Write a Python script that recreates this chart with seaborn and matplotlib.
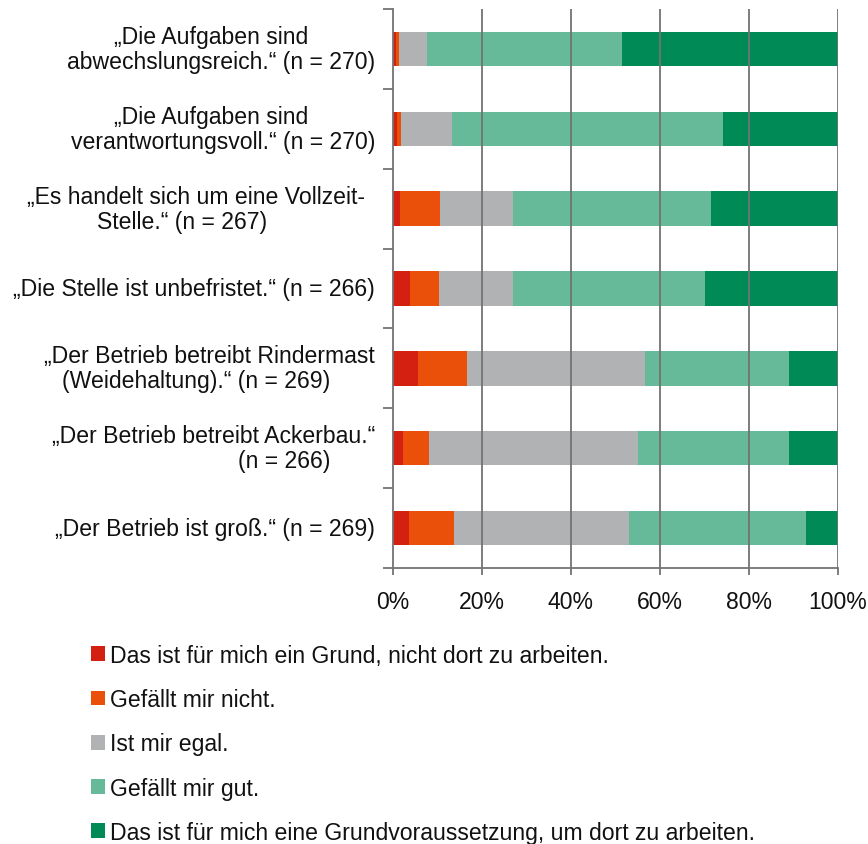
import numpy as np
import pandas as pd
import matplotlib
matplotlib.use('Agg')
import matplotlib.pyplot as plt
import matplotlib.transforms as mtransforms
import seaborn as sns
from matplotlib.patches import Patch

# Daten (Anteile in %)
statements = ['abwechslungsreich', 'verantwortungsvoll', 'vollzeit', 'unbefristet',
              'rindermast', 'ackerbau', 'gross']
label_lines = [
    ['„Die Aufgaben sind', 'abwechslungsreich.“ (n = 270)'],
    ['„Die Aufgaben sind', 'verantwortungsvoll.“ (n = 270)'],
    ['„Es handelt sich um eine Vollzeit-', 'Stelle.“ (n = 267)'],
    ['„Die Stelle ist unbefristet.“ (n = 266)'],
    ['„Der Betrieb betreibt Rindermast', '(Weidehaltung).“ (n = 269)'],
    ['„Der Betrieb betreibt Ackerbau.“', '(n = 266)'],
    ['„Der Betrieb ist groß.“ (n = 269)'],
]
grund_nicht = [0.7, 0.8, 1.5, 3.8, 5.6, 2.2, 3.7]
gefaellt_nicht = [0.7, 1.1, 9.0, 6.5, 11.0, 5.8, 10.0]
egal = [6.3, 11.3, 16.5, 16.7, 40.1, 47.1, 39.4]
gefaellt_gut = [43.7, 61.0, 44.4, 43.0, 32.2, 34.0, 39.6]
voraussetzung = [48.6, 25.8, 28.6, 30.0, 11.1, 10.9, 7.3]

series_names = ['Das ist für mich ein Grund, nicht dort zu arbeiten.',
                'Gefällt mir nicht.',
                'Ist mir egal.',
                'Gefällt mir gut.',
                'Das ist für mich eine Grundvoraussetzung, um dort zu arbeiten.']
colors = ['#D42010', '#EA500A', '#B1B2B4', '#66B999', '#008A56']

sns.set_theme(style='white')
plt.rcParams['font.family'] = ['Liberation Sans', 'DejaVu Sans']
FS = 16.6

df = pd.DataFrame({
    'statement': statements,
    's0': grund_nicht, 's1': gefaellt_nicht, 's2': egal,
    's3': gefaellt_gut, 's4': voraussetzung,
})
cols = ['s0', 's1', 's2', 's3', 's4']
cum = df[cols].cumsum(axis=1)

fig = plt.figure(figsize=(8.68, 8.45), dpi=100)
ax = fig.add_axes([393 / 868, 1 - 569 / 845, (838 - 393) / 868, (569 - 10) / 845])

# gestapelte Balken: von hinten nach vorne zeichnen
for i in range(4, -1, -1):
    sns.barplot(x=cum[cols[i]], y=df['statement'], orient='h', color=colors[i],
                width=0.43, saturation=1, ax=ax, order=statements, linewidth=0)

ax.set_xlim(0, 100)
ax.set_ylim(6.5, -0.5)
ax.set_xlabel('')
ax.set_ylabel('')

# Gitterlinien über den Balken
for gx in [20, 40, 60, 80, 100]:
    ax.axvline(gx, color='#737373', lw=1.3, zorder=5)

for s in ['top', 'right']:
    ax.spines[s].set_visible(False)
for s in ['left', 'bottom']:
    ax.spines[s].set_color('#737373')
    ax.spines[s].set_linewidth(1.3)
    ax.spines[s].set_zorder(6)

ax.set_xticks([0, 20, 40, 60, 80, 100])
ax.set_xticklabels(['0%', '20%', '40%', '60%', '80%', '100%'], fontsize=FS)
ax.tick_params(axis='x', direction='out', length=5, width=1.3, color='#737373',
               pad=10.5, bottom=True, labelcolor='#111111')
ax.set_yticks(np.arange(-0.5, 7, 1))
ax.set_yticklabels([])
ax.tick_params(axis='y', direction='out', length=7, width=1.3, color='#737373', left=True)

# Kategorie-Beschriftungen
right_edges = [[308, 375], [308, 375], [365, 267], [375], [375, 330], [375, 330], [375]]
base = mtransforms.blended_transform_factory(fig.transFigure, ax.transData)
for k, lines in enumerate(label_lines):
    n = len(lines)
    for j, line in enumerate(lines):
        dy = 0 if n == 1 else (-9.0 if j == 0 else 9.0)
        tr = mtransforms.offset_copy(base, fig=fig, x=0, y=-dy, units='points')
        ax.text(right_edges[k][j] / 868, k, line, transform=tr, ha='right', va='center',
                fontsize=FS, color='#111111')

handles = [Patch(facecolor=c, edgecolor='none') for c in colors]
fig.legend(handles, series_names, loc='upper left', bbox_to_anchor=(91 / 868, 1 - 645 / 845),
           frameon=False, fontsize=FS, handlelength=0.61, handleheight=0.61,
           handletextpad=0.22, labelspacing=0.92, borderpad=0, borderaxespad=0,
           labelcolor='#111111')

fig.savefig('out.png', dpi=100)
